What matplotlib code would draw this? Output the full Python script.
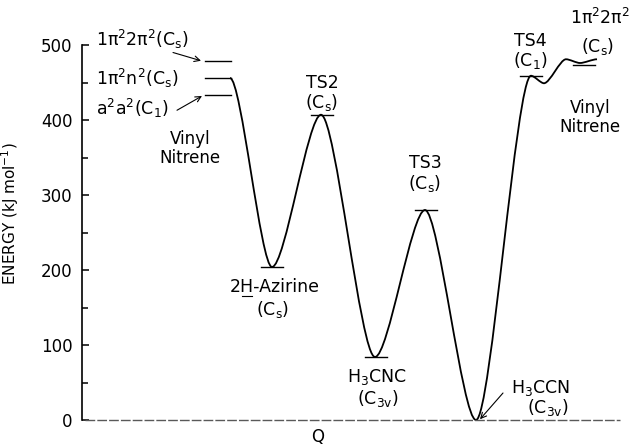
import matplotlib
matplotlib.use("Agg")
import matplotlib.pyplot as plt
from matplotlib.path import Path
from matplotlib.patches import PathPatch

# stationary points along the reaction coordinate Q (arbitrary units) and energy (kJ/mol)
q_points = [230, 272, 321, 375, 425, 476, 531, 544, 566, 580, 597]
e_points = [456, 204, 407, 84, 280, 0, 459, 449, 481, 476, 481]

# vinyl nitrene states on the left
vn_states = [r"$\mathrm{1\pi^2 2\pi^2 (C_s)}$", r"$\mathrm{1\pi^2 n^2 (C_s)}$", r"$\mathrm{a^2 a^2 (C_1)}$"]
vn_energy = [479, 456, 433]

# marked levels (Q centre, energy)
level_q = [218, 218, 218, 272, 322, 426, 376, 531, 584]
level_e = [479, 456, 433, 204, 407, 280, 84, 459, 473]

yticks_major = [0, 100, 200, 300, 400, 500]
yticks_minor = [50, 150, 250, 350, 450]

fig = plt.figure(figsize=(6.37, 4.45), dpi=100)
ax = fig.add_axes([82 / 637, 25 / 445, 543 / 637, 375 / 445])
ax.set_xlim(82, 625)
ax.set_ylim(0, 500)

for s in ["top", "right", "bottom"]:
    ax.spines[s].set_visible(False)
ax.spines["left"].set_linewidth(1.2)
ax.set_xticks([])
ax.set_yticks(yticks_major)
ax.set_yticks(yticks_minor, minor=True)
ax.tick_params(axis="y", which="major", direction="in", length=5, width=1.1, pad=7, labelsize=12)
ax.tick_params(axis="y", which="minor", direction="in", length=4, width=1.1)

ax.set_ylabel(r"ENERGY (kJ mol$^{-1}$)", fontsize=11)
ax.yaxis.set_label_coords(-0.112, 0.55)

# baseline at zero
ax.plot([85, 620], [0, 0], color="0.35", lw=1, ls=(0, (7, 1.5)), clip_on=False)

# smooth energy profile: horizontal tangents at each stationary point
k = 0.27
verts = [(q_points[0], e_points[0])]
codes = [Path.MOVETO]
for i in range(1, len(q_points)):
    q0, e0 = q_points[i - 1], e_points[i - 1]
    q1, e1 = q_points[i], e_points[i]
    dq = q1 - q0
    verts += [(q0 + k * dq, e0), (q1 - k * dq, e1), (q1, e1)]
    codes += [Path.CURVE4] * 3
ax.add_patch(PathPatch(Path(verts, codes), fill=False, lw=1.3, ec="black", clip_on=False))

# level marks
for q, e in zip(level_q, level_e):
    hw = 13 if q < 230 else 11
    ax.plot([q - hw, q + hw], [e, e], color="black", lw=1, clip_on=False)

fs = 12.5
# left states
ax.text(96, 507, vn_states[0], fontsize=fs, va="center", ha="left")
ax.text(96, 456, vn_states[1], fontsize=fs, va="center", ha="left")
ax.text(96, 416, vn_states[2], fontsize=fs, va="center", ha="left")
ax.annotate("", xy=(201, 479), xytext=(173, 490),
            arrowprops=dict(arrowstyle="->", lw=0.8, color="black", shrinkA=0, shrinkB=0))
ax.annotate("", xy=(202, 432), xytext=(177, 413),
            arrowprops=dict(arrowstyle="->", lw=0.8, color="black", shrinkA=0, shrinkB=0))
ax.text(190, 375, "Vinyl", fontsize=12, ha="center", va="center")
ax.text(190, 349, "Nitrene", fontsize=12, ha="center", va="center")

# intermediates and transition states
ax.text(322, 450, "TS2", fontsize=fs, ha="center", va="center")
ax.text(322, 423, r"(C$_\mathrm{s}$)", fontsize=fs, ha="center", va="center")
ax.text(275, 177, r"2H-Azirine", fontsize=fs, ha="center", va="center")
ax.plot([242, 252], [165, 165], color="black", lw=0.8)
ax.text(273, 148, r"(C$_\mathrm{s}$)", fontsize=fs, ha="center", va="center")
ax.text(425, 343, "TS3", fontsize=fs, ha="center", va="center")
ax.text(425, 316, r"(C$_\mathrm{s}$)", fontsize=fs, ha="center", va="center")
ax.text(377, 57, r"H$_\mathrm{3}$CNC", fontsize=fs, ha="center", va="center")
ax.text(378, 29, r"(C$_\mathrm{3v}$)", fontsize=fs, ha="center", va="center")
ax.text(541, 43, r"H$_\mathrm{3}$CCN", fontsize=fs, ha="center", va="center")
ax.text(548, 17, r"(C$_\mathrm{3v}$)", fontsize=fs, ha="center", va="center")
ax.annotate("", xy=(480, 1), xytext=(503, 36),
            arrowprops=dict(arrowstyle="->", lw=0.8, color="black", shrinkA=0, shrinkB=0))
ax.text(530, 505, "TS4", fontsize=fs, ha="center", va="center", clip_on=False)
ax.text(530, 479, r"(C$_\mathrm{1}$)", fontsize=fs, ha="center", va="center", clip_on=False)
ax.text(600, 536, r"$\mathrm{1\pi^2 2\pi^2}$", fontsize=fs, ha="center", va="center")
ax.text(598, 498, r"(C$_\mathrm{s}$)", fontsize=fs, ha="center", va="center")
ax.text(590, 416, "Vinyl", fontsize=12, ha="center", va="center")
ax.text(590, 391, "Nitrene", fontsize=12, ha="center", va="center")

fig.text(318 / 637, 1 - 437 / 445, "Q", fontsize=12, ha="center", va="center")

fig.savefig("out.png", dpi=100)
